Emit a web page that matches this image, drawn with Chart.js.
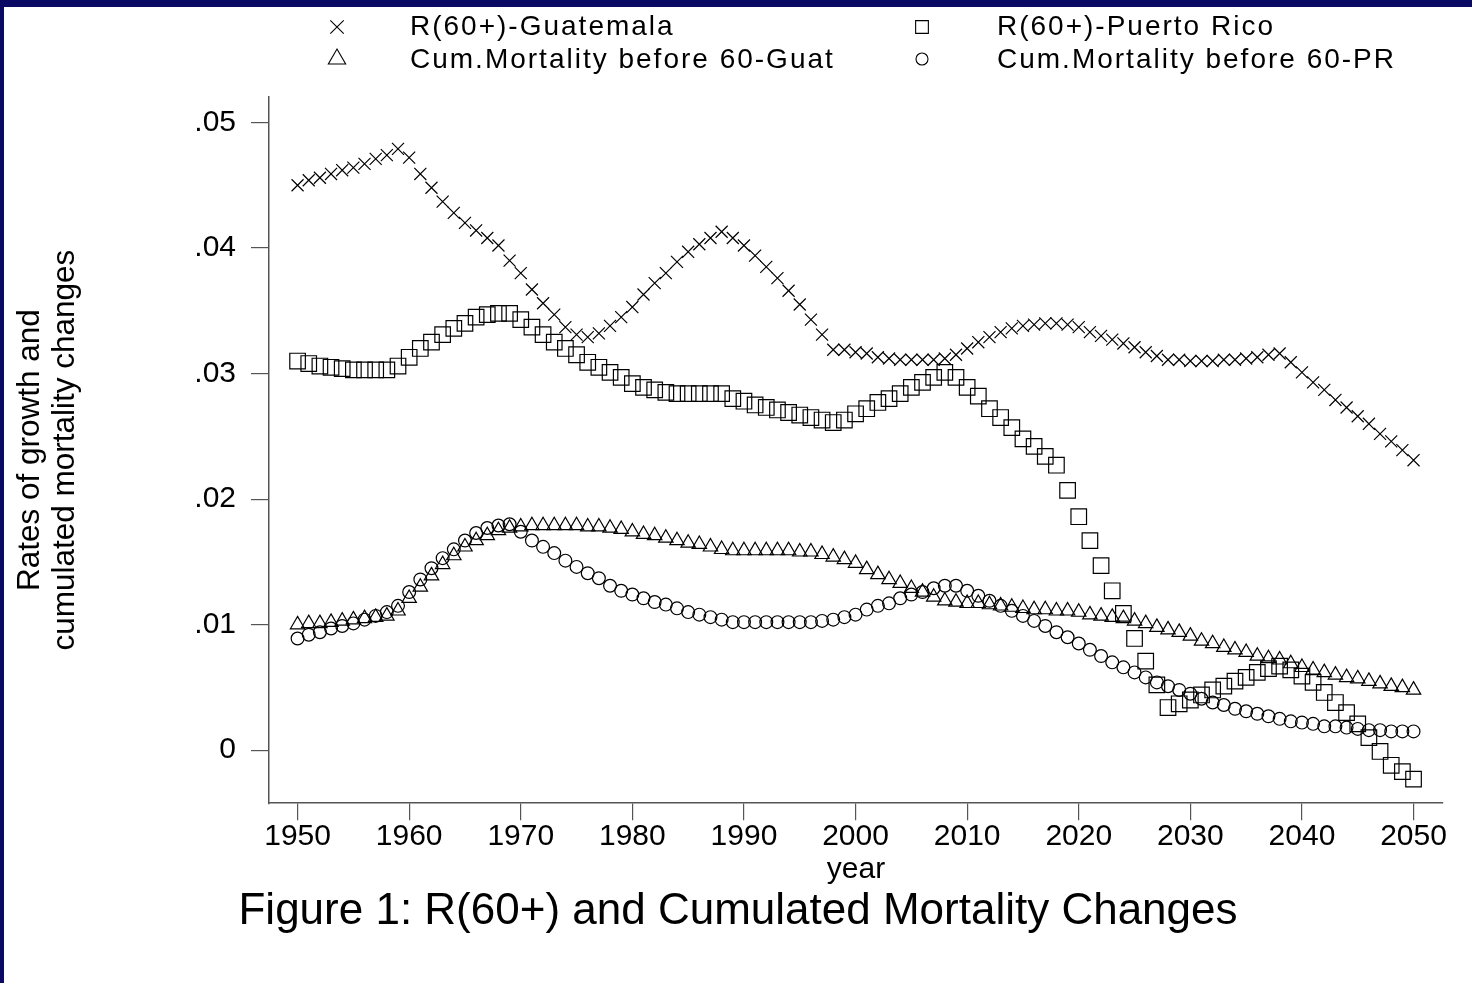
<!DOCTYPE html>
<html>
<head>
<meta charset="utf-8">
<title>Figure 1: R(60+) and Cumulated Mortality Changes</title>
<script src="https://cdn.jsdelivr.net/npm/chart.js@4.4.1/dist/chart.umd.min.js"></script>
<style>
  html, body { margin: 0; padding: 0; background: #0a0a64; overflow: hidden; }
  #marco { position: absolute; left: 4px; top: 7px; width: 1468px; height: 976px; background: #fff; }
  canvas { display: block; }
</style>
</head>
<body>
<div id="marco"><canvas id="grafico" width="1468" height="976"></canvas></div>
<script>
// Datos (1950-2050)
const years = [
  1950, 1951, 1952, 1953, 1954, 1955, 1956, 1957, 1958, 1959,
  1960, 1961, 1962, 1963, 1964, 1965, 1966, 1967, 1968, 1969,
  1970, 1971, 1972, 1973, 1974, 1975, 1976, 1977, 1978, 1979,
  1980, 1981, 1982, 1983, 1984, 1985, 1986, 1987, 1988, 1989,
  1990, 1991, 1992, 1993, 1994, 1995, 1996, 1997, 1998, 1999,
  2000, 2001, 2002, 2003, 2004, 2005, 2006, 2007, 2008, 2009,
  2010, 2011, 2012, 2013, 2014, 2015, 2016, 2017, 2018, 2019,
  2020, 2021, 2022, 2023, 2024, 2025, 2026, 2027, 2028, 2029,
  2030, 2031, 2032, 2033, 2034, 2035, 2036, 2037, 2038, 2039,
  2040, 2041, 2042, 2043, 2044, 2045, 2046, 2047, 2048, 2049,
  2050
];

const rGuatemala = [
  .0450, .0454, .0456, .0459, .0462, .0464, .0467, .0471, .0474, .0479,
  .0472, .0459, .0448, .0437, .0428, .0420, .0414, .0408, .0402, .0390,
  .0380, .0367, .0356, .0347, .0337, .0331, .0329, .0332, .0338, .0345,
  .0353, .0363, .0372, .0380, .0389, .0397, .0403, .0408, .0413, .0408,
  .0402, .0394, .0385, .0376, .0366, .0355, .0343, .0331, .0319, .0319,
  .0317, .0316, .0313, .0312, .0311, .0311, .0311, .0311, .0312, .0315,
  .0320, .0325, .0329, .0333, .0336, .0338, .0339, .0340, .0340, .0339,
  .0337, .0333, .0330, .0327, .0324, .0321, .0317, .0314, .0311, .0311,
  .0310, .0310, .0310, .0311, .0311, .0312, .0313, .0315, .0316, .0309,
  .0301, .0293, .0287, .0279, .0273, .0266, .0260, .0252, .0246, .0239,
  .0231
];

const rPuertoRico = [
  .0310, .0308, .0306, .0305, .0304, .0303, .0303, .0303, .0303, .0306,
  .0313, .0320, .0325, .0331, .0336, .0340, .0345, .0347, .0348, .0348,
  .0343, .0337, .0331, .0325, .0320, .0315, .0309, .0305, .0301, .0297,
  .0292, .0289, .0287, .0285, .0284, .0284, .0284, .0284, .0284, .0280,
  .0278, .0275, .0273, .0271, .0269, .0267, .0265, .0263, .0261, .0263,
  .0268, .0272, .0277, .0280, .0284, .0289, .0293, .0297, .0301, .0297,
  .0289, .0282, .0272, .0265, .0257, .0248, .0242, .0234, .0227, .0207,
  .0186, .0167, .0147, .0127, .0109, .0089, .0071, .0052, .0034, .0037,
  .0040, .0044, .0048, .0051, .0055, .0058, .0062, .0065, .0067, .0064,
  .0059, .0054, .0046, .0038, .0030, .0021, .0010, -.0001, -.0012, -.0017,
  -.0023
];

const mortGuat = [
  .0100, .0101, .0101, .0102, .0103, .0104, .0105, .0106, .0107, .0111,
  .0121, .0130, .0139, .0148, .0155, .0162, .0167, .0171, .0175, .0177,
  .0178, .0179, .0179, .0179, .0179, .0179, .0178, .0178, .0177, .0176,
  .0174, .0172, .0171, .0169, .0167, .0165, .0164, .0162, .0160, .0159,
  .0159, .0159, .0159, .0159, .0159, .0158, .0158, .0156, .0154, .0152,
  .0149, .0144, .0140, .0136, .0133, .0129, .0126, .0122, .0119, .0118,
  .0117, .0117, .0116, .0115, .0114, .0113, .0112, .0112, .0111, .0111,
  .0110, .0108, .0107, .0106, .0105, .0103, .0101, .0098, .0096, .0094,
  .0091, .0087, .0085, .0082, .0080, .0078, .0075, .0073, .0072, .0069,
  .0066, .0064, .0062, .0060, .0058, .0057, .0055, .0053, .0051, .0050,
  .0048
];

const mortPR = [
  .0089, .0092, .0094, .0097, .0099, .0101, .0104, .0107, .0110, .0115,
  .0126, .0136, .0145, .0153, .0160, .0167, .0173, .0177, .0179, .0180,
  .0174, .0167, .0162, .0157, .0151, .0146, .0141, .0137, .0131, .0127,
  .0124, .0121, .0118, .0116, .0113, .0110, .0108, .0106, .0104, .0102,
  .0102, .0102, .0102, .0102, .0102, .0102, .0102, .0103, .0104, .0106,
  .0108, .0112, .0115, .0117, .0121, .0124, .0126, .0129, .0131, .0131,
  .0127, .0123, .0119, .0115, .0111, .0107, .0103, .0099, .0094, .0090,
  .0085, .0080, .0075, .0070, .0066, .0062, .0058, .0054, .0051, .0048,
  .0045, .0041, .0038, .0036, .0033, .0031, .0029, .0027, .0025, .0023,
  .0022, .0021, .0019, .0019, .0018, .0017, .0016, .0016, .0015, .0015,
  .0015
];

const seriesNames = [
  "R(60+)-Guatemala",
  "R(60+)-Puerto Rico",
  "Cum.Mortality before 60-Guat",
  "Cum.Mortality before 60-PR"
];

const xTicks = [1950, 1960, 1970, 1980, 1990, 2000, 2010, 2020, 2030, 2040, 2050];
const yTicks = [0, .01, .02, .03, .04, .05];
const yTickLabels = ["0", ".01", ".02", ".03", ".04", ".05"];

const FUENTE = '"Liberation Sans", Arial, sans-serif';
Chart.defaults.font.family = FUENTE;
Chart.defaults.color = "#000";

function puntos(valores) {
  return years.map((y, i) => ({ x: y, y: valores[i] }));
}

// Leyenda en dos columnas, como en la figura
const leyenda = {
  id: "leyenda",
  afterDraw(chart) {
    const c = chart.ctx;
    const marcaX = [333, 918], textoX = [406, 993];
    const marcaY = [20, 52], textoY = [28, 61];
    chart.data.datasets.forEach((ds, i) => {
      const col = i % 2, fila = Math.floor(i / 2);
      c.save();
      c.strokeStyle = "#000";
      c.fillStyle = "rgba(0,0,0,0)";
      c.lineWidth = 1.1;
      Chart.helpers.drawPoint(c, {
        pointStyle: ds.pointStyle, rotation: 0, radius: ds.radioLeyenda, borderWidth: 1.1
      }, marcaX[col], marcaY[fila]);
      c.fillStyle = "#000";
      c.font = "28px " + FUENTE;
      c.letterSpacing = "2px";
      c.textBaseline = "alphabetic";
      c.textAlign = "left";
      c.fillText(ds.label, textoX[col], textoY[fila]);
      c.restore();
    });
  }
};

const comunes = {
  showLine: false,
  borderColor: "#000",
  backgroundColor: "rgba(0,0,0,0)",
  pointBorderColor: "#000",
  pointBackgroundColor: "rgba(0,0,0,0)",
  pointBorderWidth: 1.2
};

const ctx = document.getElementById("grafico").getContext("2d");
const chart = new Chart(ctx, {
  type: "scatter",
  data: {
    datasets: [
      { ...comunes, label: seriesNames[0], data: puntos(rGuatemala), pointStyle: "crossRot", pointRadius: 8.5, radioLeyenda: 9.5 },
      { ...comunes, label: seriesNames[1], data: puntos(rPuertoRico), pointStyle: "rect", pointRadius: 11, radioLeyenda: 9 },
      { ...comunes, label: seriesNames[2], data: puntos(mortGuat), pointStyle: "triangle", pointRadius: 8.3, radioLeyenda: 10 },
      { ...comunes, label: seriesNames[3], data: puntos(mortPR), pointStyle: "circle", pointRadius: 6.4, radioLeyenda: 6 }
    ]
  },
  options: {
    responsive: false,
    animation: false,
    devicePixelRatio: 1,
    layout: { padding: { top: 90, right: 29, left: 29, bottom: 45 } },
    plugins: {
      legend: { display: false },
      tooltip: { enabled: false },
      title: {
        display: true,
        position: "bottom",
        text: "Figure 1: R(60+) and Cumulated Mortality Changes",
        color: "#000",
        font: { size: 44, weight: "normal", lineHeight: 1.2 },
        padding: { top: 0, bottom: 0 }
      }
    },
    scales: {
      x: {
        type: "linear",
        min: 1947.44,
        max: 2052.64,
        afterBuildTicks: (s) => { s.ticks = xTicks.map(v => ({ value: v })); },
        afterFit: (s) => { s.height = 82; },
        ticks: {
          font: { size: 30, lineHeight: 1.0 },
          padding: 2,
          maxRotation: 0,
          autoSkip: false,
          callback: (v) => String(v)
        },
        grid: { display: true, drawOnChartArea: false, drawTicks: true, tickLength: 17, color: "#555", lineWidth: 1.2 },
        border: { display: true, color: "#555", width: 1.5 },
        title: { display: true, text: "year", font: { size: 30, lineHeight: 1.0 }, padding: { top: 0, bottom: 0 } }
      },
      y: {
        type: "linear",
        min: -0.00422,
        max: 0.05203,
        afterBuildTicks: (s) => { s.ticks = yTicks.map(v => ({ value: v })); },
        afterFit: (s) => { s.width = 236; },
        ticks: {
          font: { size: 30 },
          padding: 15,
          callback: (v) => yTickLabels[yTicks.indexOf(v)] ?? ""
        },
        grid: { display: true, drawOnChartArea: false, drawTicks: true, tickLength: 18, color: "#555", lineWidth: 1.2 },
        border: { display: true, color: "#555", width: 1.5 },
        title: {
          display: true,
          text: ["Rates of growth and", "cumulated mortality changes"],
          font: { size: 31.5, lineHeight: 1.1 },
          padding: { top: -20, bottom: 0 }
        }
      }
    }
  },
  plugins: [leyenda]
});
</script>
</body>
</html>
